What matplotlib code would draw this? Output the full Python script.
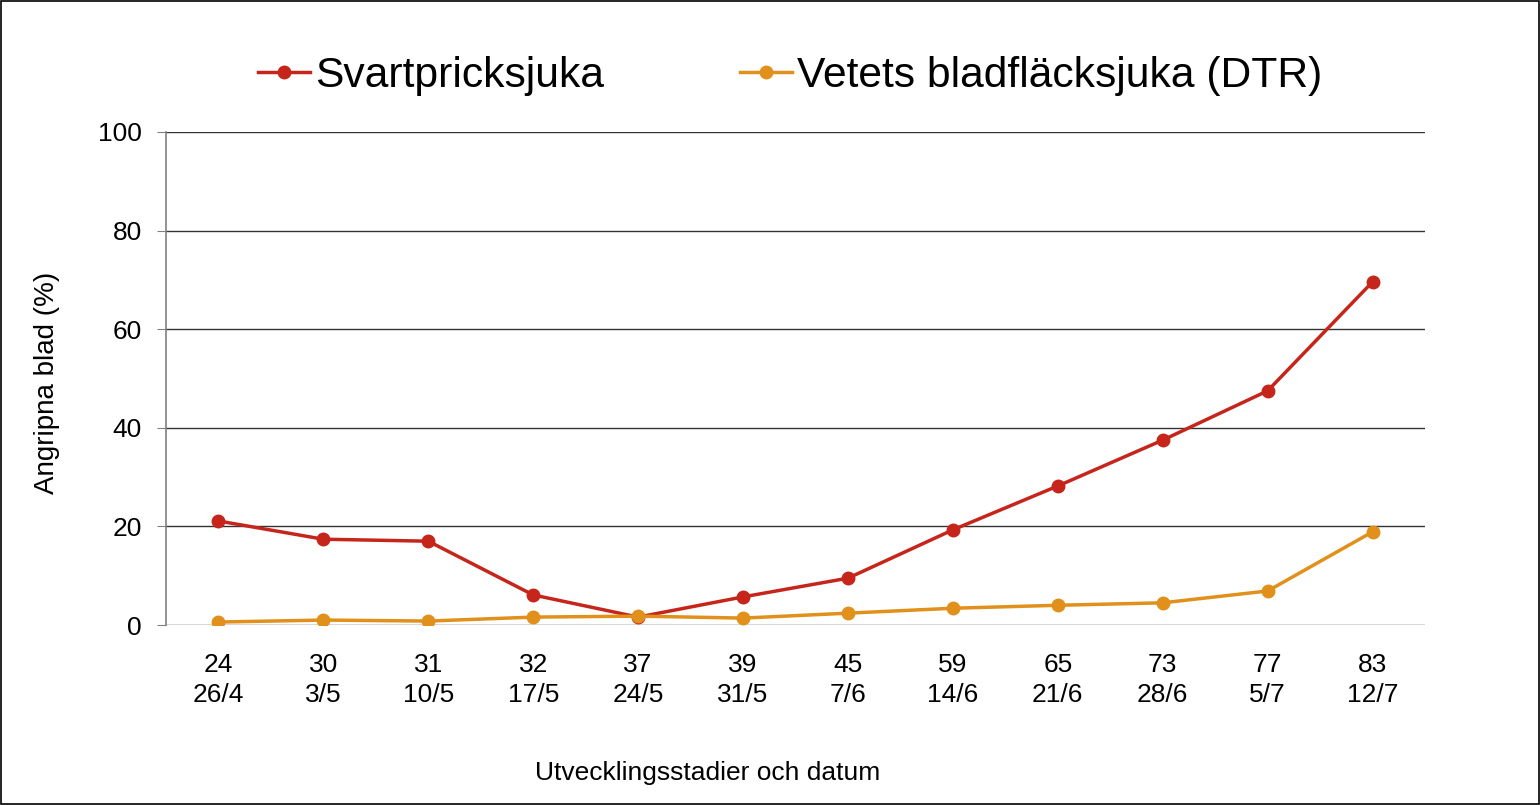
import matplotlib
matplotlib.use("Agg")
import matplotlib.pyplot as plt
from matplotlib.patches import Rectangle

plt.rcParams['font.family'] = ['Liberation Sans', 'DejaVu Sans']

stages = ["24", "30", "31", "32", "37", "39", "45", "59", "65", "73", "77", "83"]
dates = ["26/4", "3/5", "10/5", "17/5", "24/5", "31/5", "7/6", "14/6", "21/6", "28/6", "5/7", "12/7"]
svartpricksjuka = [21.1, 17.4, 17.0, 6.1, 1.6, 5.7, 9.5, 19.3, 28.2, 37.5, 47.5, 69.6]
dtr = [0.6, 1.0, 0.8, 1.6, 1.8, 1.4, 2.4, 3.4, 4.0, 4.5, 6.9, 18.9]
series_names = ["Svartpricksjuka", "Vetets bladfläcksjuka (DTR)"]
colors = ["#C5251B", "#E0901B"]

fig = plt.figure(figsize=(15.4, 8.05), dpi=100)
ax = fig.add_axes([166/1540, 1 - 625/805, 1259/1540, 493/805])

x = list(range(len(stages)))
for vals, name, c in zip([svartpricksjuka, dtr], series_names, colors):
    ax.plot(x, vals, color=c, lw=2.5, marker='o', ms=9, label=name, zorder=3)

ax.set_xlim(-0.5, len(stages) - 0.5)
ax.set_ylim(0, 100)
ax.set_yticks([0, 20, 40, 60, 80, 100])
ax.yaxis.grid(True, color='#333333', lw=1)
ax.set_axisbelow(True)
for s in ['top', 'right', 'bottom']:
    ax.spines[s].set_visible(False)
ax.spines['left'].set_color('#808080')
ax.spines['left'].set_linewidth(1.2)
ax.tick_params(axis='y', length=6.5, color='#808080', labelsize=19, pad=11)

ax.xaxis.remove_overlapping_locs = False
ax.set_xticks(x)
ax.set_xticklabels(stages)
ax.set_xticks(x, minor=True)
ax.set_xticklabels(dates, minor=True)
ax.tick_params(axis='x', which='major', length=0, labelsize=19, pad=20)
ax.tick_params(axis='x', which='minor', length=0, labelsize=19, pad=42)

ax.set_xlabel("Utvecklingsstadier och datum", fontsize=19)
ax.xaxis.set_label_coords((708 - 166) / 1259, (625 - 761) / 493)
ax.set_ylabel("Angripna blad (%)", fontsize=20)
ax.yaxis.set_label_coords((60 - 166) / 1259, (625 - 383) / 493)

leg = fig.legend(loc='center', bbox_to_anchor=(790/1540, 1 - 76/805), ncol=2,
                 frameon=False, fontsize=30.7, handlelength=1.22, handletextpad=0.12,
                 columnspacing=3.2, borderpad=0, borderaxespad=0)

fig.patches.append(Rectangle((0.0008, 0.0015), 0.9984, 0.997, transform=fig.transFigure,
                             fill=False, edgecolor='black', lw=1.2))

fig.savefig("out.png", dpi=100)
